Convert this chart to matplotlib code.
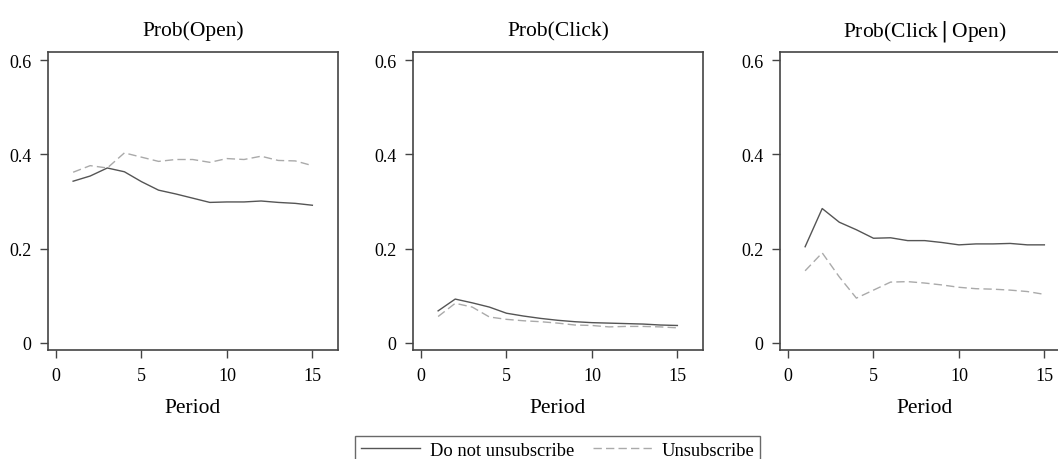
import matplotlib
matplotlib.use("Agg")
import matplotlib.pyplot as plt
from matplotlib.lines import Line2D

plt.rcParams["font.family"] = ["Liberation Serif", "DejaVu Serif"]

periods = list(range(1, 16))

titles = ["Prob(Open)", "Prob(Click)", "Prob(Click$\\,|\\,$Open)"]

open_stay = [0.343, 0.354, 0.371, 0.363, 0.342, 0.324, 0.316, 0.307, 0.298,
             0.299, 0.299, 0.301, 0.298, 0.296, 0.292]
open_unsub = [0.362, 0.376, 0.371, 0.403, 0.394, 0.385, 0.389, 0.389, 0.383,
              0.391, 0.389, 0.396, 0.387, 0.386, 0.376]

click_stay = [0.068, 0.093, 0.085, 0.076, 0.063, 0.057, 0.052, 0.048, 0.045,
              0.043, 0.042, 0.041, 0.040, 0.038, 0.037]
click_unsub = [0.056, 0.084, 0.076, 0.055, 0.050, 0.047, 0.045, 0.042, 0.038,
               0.037, 0.034, 0.035, 0.035, 0.034, 0.032]

cond_stay = [0.204, 0.285, 0.256, 0.240, 0.222, 0.223, 0.217, 0.217, 0.213,
             0.208, 0.210, 0.210, 0.211, 0.208, 0.208]
cond_unsub = [0.153, 0.191, 0.140, 0.095, 0.112, 0.129, 0.130, 0.127, 0.123,
              0.118, 0.115, 0.114, 0.112, 0.109, 0.103]

series = [
    (open_stay, open_unsub),
    (click_stay, click_unsub),
    (cond_stay, cond_unsub),
]

legend_labels = ["Do not unsubscribe", "Unsubscribe"]

SOLID = "#555555"
DASHED = "#aaaaaa"
FRAME = "#444444"

W, H = 1058, 460
fig = plt.figure(figsize=(W / 100, H / 100), dpi=100)

# panel boxes in pixels (third one runs off the right edge like the original)
lefts = [48, 413, 780]
ax_w = 290
ax_top, ax_bottom = 53, 351

for left, title, (stay, unsub) in zip(lefts, titles, series):
    ax = fig.add_axes([left / W, 1 - ax_bottom / H, ax_w / W, (ax_bottom - ax_top) / H])
    ax.plot(periods, stay, color=SOLID, lw=1.0)
    ax.plot(periods, unsub, color=DASHED, lw=1.0, dashes=(6, 3))
    ax.set_xlim(-0.47, 16.5)
    ax.set_ylim(-0.015, 0.617)
    ax.set_xticks([0, 5, 10, 15])
    ax.set_yticks([0, 0.2, 0.4, 0.6])
    ax.set_yticklabels(["0", "0.2", "0.4", "0.6"])
    ax.tick_params(direction="out", length=6, width=1.0, color=FRAME,
                   labelsize=13, pad=6)
    for sp in ax.spines.values():
        sp.set_color(FRAME)
        sp.set_linewidth(1.2)
    ax.set_title(title, fontsize=15.5, pad=12)
    ax.set_xlabel("Period", fontsize=15.5, labelpad=10)

handles = [
    Line2D([], [], color=SOLID, lw=1.0),
    Line2D([], [], color=DASHED, lw=1.0, dashes=(6, 3)),
]
leg = fig.legend(handles, legend_labels, loc="upper left",
                 bbox_to_anchor=(355 / W, 1 - 437 / H), ncol=2, frameon=True,
                 fancybox=False, fontsize=13.3, handlelength=3.2,
                 columnspacing=1.0, borderpad=0.3, handletextpad=0.55,
                 borderaxespad=0)
leg.get_frame().set_edgecolor(FRAME)
leg.get_frame().set_linewidth(1.0)

fig.savefig("out.png", dpi=100)
